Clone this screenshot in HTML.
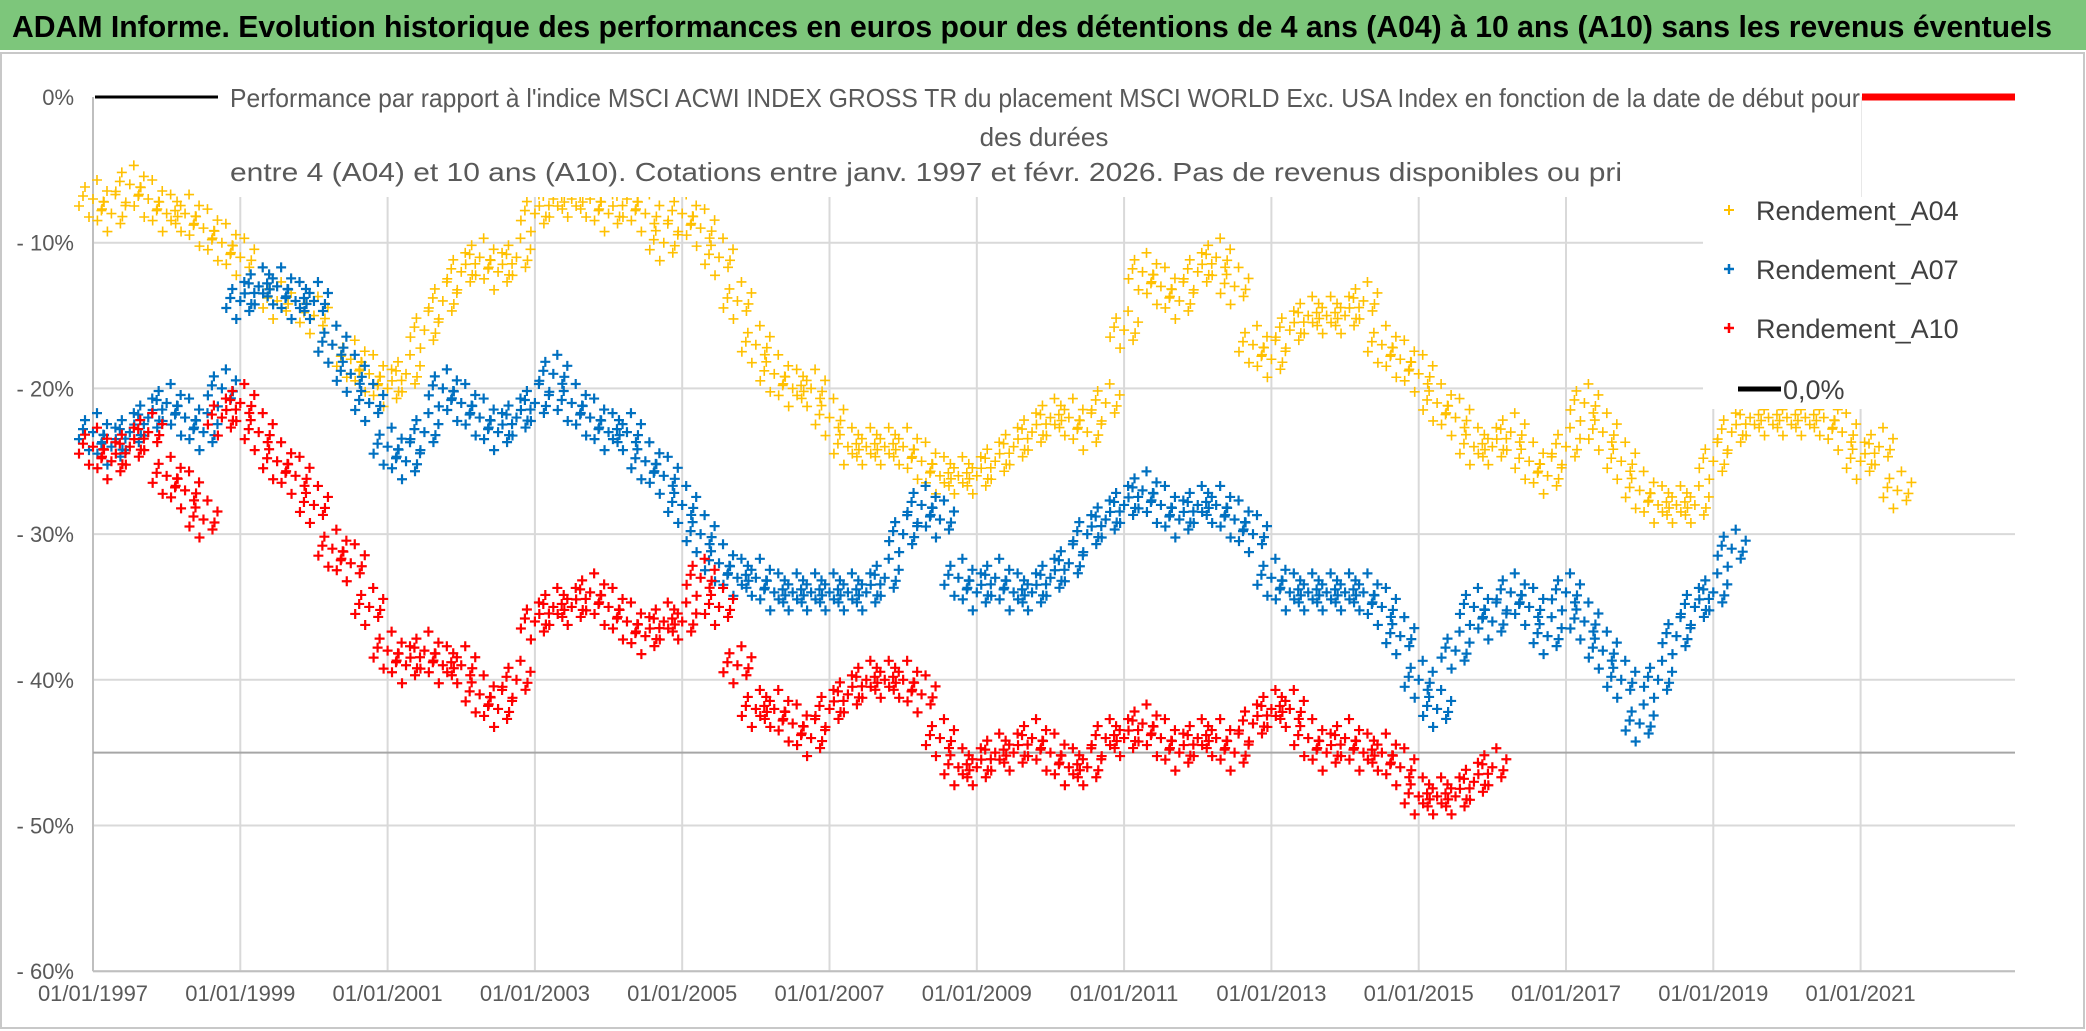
<!DOCTYPE html>
<html><head><meta charset="utf-8"><style>
html,body{margin:0;padding:0;background:#fff;}
svg{display:block;font-family:"Liberation Sans Narrow","Liberation Sans",sans-serif;}
</style></head><body>
<svg id="chart" width="2086" height="1031" viewBox="0 0 2086 1031" xmlns="http://www.w3.org/2000/svg">
<rect x="0" y="0" width="2086" height="1031" fill="#fff"/>
<rect x="0" y="0" width="2086" height="50" fill="#7dc67b"/>
<text x="12" y="37" font-size="31" font-weight="bold" fill="#000" textLength="2040" lengthAdjust="spacingAndGlyphs">ADAM Informe. Evolution historique des performances en euros pour des détentions de 4 ans (A04) à 10 ans (A10) sans les revenus éventuels</text>
<rect x="1" y="53" width="2083" height="975" fill="none" stroke="#c8c8c8" stroke-width="2"/>
<g id="grid"></g>
<g id="series"></g>
<rect x="219" y="60" width="1642" height="137" fill="#fff"/>
<line x1="95" y1="97" x2="218" y2="97" stroke="#000" stroke-width="3"/>
<line x1="1862" y1="97" x2="2015" y2="97" stroke="#ff0000" stroke-width="7"/>
<g fill="#595959" font-size="26">
<text x="230" y="107" textLength="1630" lengthAdjust="spacingAndGlyphs">Performance par rapport à l'indice MSCI ACWI INDEX GROSS TR  du placement MSCI WORLD Exc. USA Index en fonction de la date de début pour</text>
<text x="1044" y="146" text-anchor="middle">des durées</text>
<text x="230" y="181" textLength="1392" lengthAdjust="spacingAndGlyphs">entre 4 (A04) et 10 ans (A10). Cotations entre janv. 1997 et févr. 2026. Pas de revenus disponibles ou pri</text>
</g>
<rect x="1703" y="197" width="312" height="212" fill="#fff"/>
<g fill="#404040" font-size="27">
<g><path d="M1724,210h10M1729,205v10" stroke="#ffc000" stroke-width="2"/><text x="1756" y="220">Rendement_A04</text></g>
<g><path d="M1724,269h10M1729,264v10" stroke="#0070c0" stroke-width="2.5"/><text x="1756" y="279">Rendement_A07</text></g>
<g><path d="M1724,328h10M1729,323v10" stroke="#ff0000" stroke-width="2.5"/><text x="1756" y="338">Rendement_A10</text></g>
<g><line x1="1738" y1="389" x2="1781" y2="389" stroke="#000" stroke-width="5"/><text x="1783" y="399">0,0%</text></g>
</g>
<g id="axes"></g>
</svg>
<script>
const yTicks=[0,-10,-20,-30,-40,-50,-60];
const yTickLabels=["0%","- 10%","- 20%","- 30%","- 40%","- 50%","- 60%"];
const xTickYears=[1997,1999,2001,2003,2005,2007,2009,2011,2013,2015,2017,2019,2021];
const xTickLabels=["01/01/1997","01/01/1999","01/01/2001","01/01/2003","01/01/2005","01/01/2007","01/01/2009","01/01/2011","01/01/2013","01/01/2015","01/01/2017","01/01/2019","01/01/2021"];
const refLine=-45;
const a04Start=1997;
const a04=[-7,-8,-6,-7,-8,-8,-9,-10,-11,-13,-14,-14,-15,-17,-18,-19,-20,-19,-16,-14,-12,-11,-12,-11,-8,-7,-7,-7,-8,-7,-8,-10,-8,-9,-11,-14,-17,-19,-20,-20,-22,-24,-24,-24,-24,-25,-26,-26,-26,-25,-24,-23,-22,-22,-23,-21,-16,-12,-13,-14,-12,-11,-13,-17,-18,-16,-15,-15,-15,-14,-17,-18,-19,-21,-22,-24,-24,-23,-25,-26,-24,-21,-23,-25,-27,-28,-28,-28,-25,-23,-22,-22,-22,-22,-22,-23,-25,-24,-27];
const a07Start=1997;
const a07=[-23,-24,-23,-22,-21,-22,-23,-20,-14,-13,-13,-14,-14,-17,-19,-21,-24,-25,-23,-20,-21,-22,-23,-22,-21,-19,-21,-22,-23,-23,-25,-26,-28,-30,-32,-33,-33,-34,-34,-34,-34,-34,-34,-33,-30,-28,-29,-33,-34,-33,-34,-34,-33,-32,-30,-29,-28,-27,-28,-29,-28,-28,-29,-30,-33,-34,-34,-34,-34,-34,-35,-37,-40,-42,-38,-35,-36,-34,-35,-37,-34,-36,-38,-40,-43,-40,-37,-35,-34,-31];
const a10Start=1997;
const a10=[-24,-25,-24,-23,-26,-27,-29,-22,-21,-23,-25,-26,-28,-31,-32,-35,-38,-39,-38,-39,-39,-41,-42,-40,-36,-35,-35,-34,-35,-36,-37,-36,-36,-33,-35,-39,-42,-42,-43,-44,-42,-41,-40,-40,-40,-41,-44,-46,-46,-45,-45,-44,-45,-46,-46,-44,-44,-43,-44,-45,-44,-44,-45,-43,-42,-42,-44,-45,-44,-45,-45,-46,-48,-48,-48,-47,-46];

const X0=93, PX_YEAR=73.65, Y0=97, PX_PCT=14.57;
function xs(year){return X0+(year-1997)*PX_YEAR;}
function ys(p){return Y0-p*PX_PCT;}
const NS="http://www.w3.org/2000/svg";
function mk(tag,attrs,parent){const e=document.createElementNS(NS,tag);for(const k in attrs)e.setAttribute(k,attrs[k]);parent.appendChild(e);return e;}
const grid=document.getElementById('grid'),axes=document.getElementById('axes'),ser=document.getElementById('series');
const right=2015;
yTicks.forEach((t,i)=>{
  if(i>0){const l=mk('line',{x1:X0,x2:right,y1:ys(t),y2:ys(t),stroke:'#d9d9d9','stroke-width':2},grid);
  
  }
  const tx=mk('text',{x:74,y:ys(t)+8,'text-anchor':'end','font-size':22,fill:'#595959'},axes);
  tx.textContent=yTickLabels[i];
  
  
});
xTickYears.forEach((yr,i)=>{
  if(i>0){const l=mk('line',{x1:xs(yr),x2:xs(yr),y1:Y0,y2:ys(-60),stroke:'#d9d9d9','stroke-width':2},grid);
  
  }
  const tx=mk('text',{x:xs(yr),y:1001,'text-anchor':'middle','font-size':22,fill:'#595959'},axes);
  tx.textContent=xTickLabels[i];
  
  
});
const ax=mk('line',{x1:X0,x2:X0,y1:Y0,y2:ys(-60),stroke:'#bfbfbf','stroke-width':2},grid);


const bx=mk('line',{x1:X0,x2:right,y1:ys(-60),y2:ys(-60),stroke:'#bfbfbf','stroke-width':2},grid);


const rl=mk('line',{x1:X0,x2:right,y1:ys(refLine),y2:ys(refLine),stroke:'#a6a6a6','stroke-width':2},grid);



const offs=[[0,0],[-8,-12],[9,10],[-14,7],[14,-8],[4,-19],[-4,18],[11,3],[-10,-3]];
function draw(vals,start,color,name,sw){
  const g=mk('g',{stroke:color,'stroke-width':sw,fill:'none'},ser);
  
  
  let d='';
  vals.forEach((v,i)=>{
    const cx=xs(start+i*0.25), cy=ys(v);
    offs.forEach(o=>{const x=cx+o[0],y=cy+o[1];d+=`M${x-5},${y}h10M${x},${y-5}v10`;});
  });
  const p=mk('path',{d:d},g);
  
  
}
draw(a04,a04Start,'#ffc000','series-a04',1.6);
draw(a07,a07Start,'#0070c0','series-a07',2.2);
draw(a10,a10Start,'#ff0000','series-a10',2.2);
</script>
</body></html>
